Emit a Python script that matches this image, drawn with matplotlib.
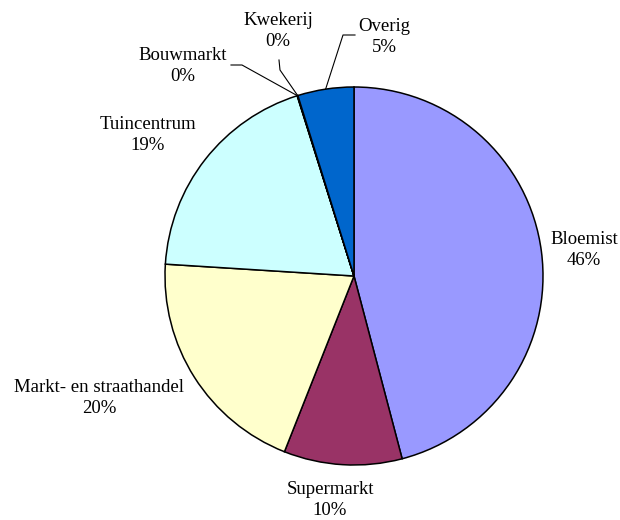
import matplotlib.pyplot as plt
import numpy as np

labels = ['Bloemist', 'Supermarkt', 'Markt- en straathandel', 'Tuincentrum',
          'Bouwmarkt', 'Kwekerij', 'Overig']
shares = [45.9, 10.1, 20.0, 19.14, 0.03, 0.03, 4.8]
pct_text = ['46%', '10%', '20%', '19%', '0%', '0%', '5%']
colors = ['#9999FF', '#993366', '#FFFFCC', '#CCFFFF', '#660066', '#FF8080', '#0066CC']

# layout in pixels (figure 620x520, pie centre and radius)
W, H = 620, 520
CX, CY, R = 354, 276, 189
label_px = [(584, 250), (330, 500), (99, 398), (148, 135),
            (183, 66), (278, 31), (384, 37)]
# elbow points for leader lines (pixels), None = no leader
elbows = [None, None, None, None,
          [(231, 65), (242, 65)],
          [(279, 60), (280, 70)],
          [(355, 35), (343, 35)]]


def px(x, y):
    return (x - CX) / R, (CY - y) / R


plt.rcParams['font.family'] = ['Liberation Serif', 'DejaVu Serif']
fig = plt.figure(figsize=(W / 100, H / 100), dpi=100)
ax = fig.add_axes([0, 0, 1, 1])

wedges, _ = ax.pie(shares, colors=colors, startangle=90, counterclock=False,
                   radius=1, wedgeprops=dict(edgecolor='black', linewidth=1.1))
ax.set_xlim(-CX / R, (W - CX) / R)
ax.set_ylim(-(H - CY) / R, CY / R)
ax.axis('off')

for i, w in enumerate(wedges):
    lx, ly = px(*label_px[i])
    ax.text(lx, ly, labels[i] + '\n' + pct_text[i], ha='center', va='center',
            fontsize=13.5, linespacing=1.27)
    if elbows[i] is not None:
        mid = np.deg2rad((w.theta1 + w.theta2) / 2)
        pts = [px(*p) for p in elbows[i]] + [(np.cos(mid), np.sin(mid))]
        xs, ys = zip(*pts)
        ax.plot(xs, ys, color='black', linewidth=0.8)

fig.savefig('out.png', dpi=100)
